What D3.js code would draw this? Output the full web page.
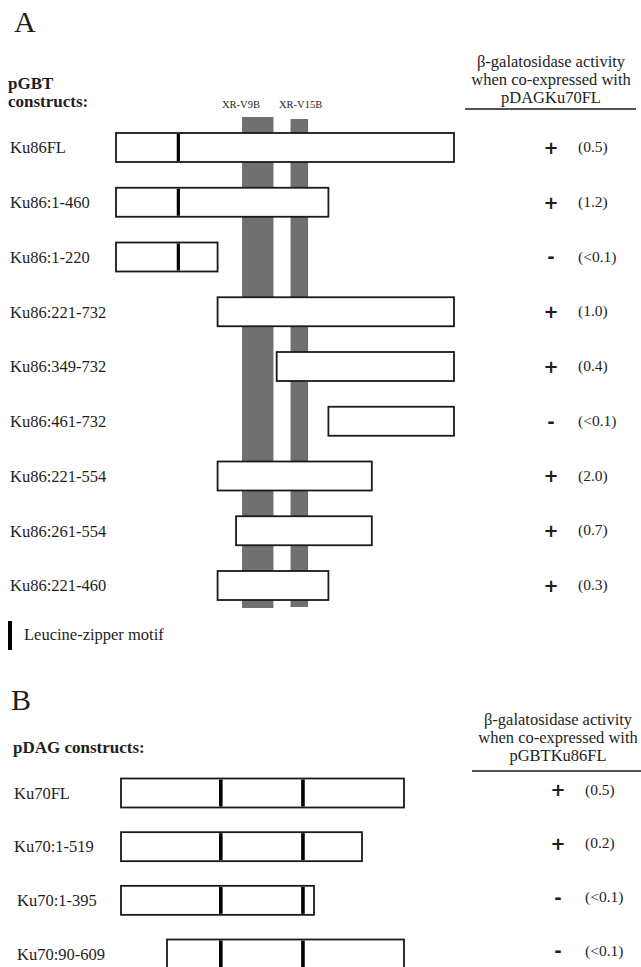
<!DOCTYPE html>
<html>
<head>
<meta charset="utf-8">
<script src="https://cdn.jsdelivr.net/npm/d3@7/dist/d3.min.js"></script>
<style>
  html, body { margin: 0; padding: 0; background: #ffffff; }
  svg { display: block; }
  text { font-family: "Liberation Serif", "Times New Roman", serif; fill: #1e1e1e; }
</style>
</head>
<body>
<script>
// ---------- Panel A data (pGBT Ku86 constructs, Ku86 = 732 residues) ----------
const ku86Constructs = ["Ku86FL", "Ku86:1-460", "Ku86:1-220", "Ku86:221-732", "Ku86:349-732",
                        "Ku86:461-732", "Ku86:221-554", "Ku86:261-554", "Ku86:221-460"];
const ku86Start = [1, 1, 1, 221, 349, 461, 221, 261, 221];
const ku86End   = [732, 460, 220, 732, 732, 732, 554, 554, 460];
const ku86Length = 732;
const ku86Zippers = [135];                       // leucine-zipper motif (residue, estimated)
const xrRegions = ["XR-V9B", "XR-V15B"];
const xrStart = [273, 378];                      // residues
const xrEnd   = [341, 416];
const ku86Sign  = ["+", "+", "-", "+", "+", "-", "+", "+", "+"];
const ku86Value = ["(0.5)", "(1.2)", "(<0.1)", "(1.0)", "(0.4)", "(<0.1)", "(2.0)", "(0.7)", "(0.3)"];
const headerA = ["β-galatosidase activity", "when co-expressed with", "pDAGKu70FL"];

// ---------- Panel B data (pDAG Ku70 constructs, Ku70 = 609 residues) ----------
const ku70Constructs = ["Ku70FL", "Ku70:1-519", "Ku70:1-395", "Ku70:90-609"];
const ku70Start = [1, 1, 1, 90];
const ku70End   = [609, 519, 395, 609];
const ku70Knots = [0, 89, 395, 519, 609];        // schematic scale knots
const ku70Zippers = [201, 372];
const ku70Sign  = ["+", "+", "-", "-"];
const ku70Value = ["(0.5)", "(0.2)", "(<0.1)", "(<0.1)"];
const headerB = ["β-galatosidase activity", "when co-expressed with", "pGBTKu86FL"];

const W = 641, H = 967;
const svg = d3.select("body").append("svg").attr("width", W).attr("height", H);

const labelFont = 16.5;
const barH = 29;
const gray = "#707070";
const ink = "#1a1a1a";

// ================= PANEL A =================
const xA = d3.scaleLinear().domain([0, ku86Length]).range([116, 454]);
const yA = d3.scalePoint().domain(ku86Constructs).range([147.5, 585.5]);

svg.append("text").attr("x", 14).attr("y", 32).attr("font-size", 30).text("A");
const hdrA = svg.append("text").attr("x", 8).attr("font-size", 17).attr("font-weight", "bold");
hdrA.append("tspan").attr("x", 8).attr("y", 89).text("pGBT");
hdrA.append("tspan").attr("x", 8).attr("y", 107).text("constructs:");

// XR regions (gray columns, behind constructs)
const gA = svg.append("g");
const topY = yA(ku86Constructs[0]) - barH / 2 - 16;
const botY = yA(ku86Constructs[ku86Constructs.length - 1]) + barH / 2 + 8;
gA.selectAll("rect.xr").data(xrRegions).join("rect")
  .attr("class", "xr")
  .attr("x", (d, i) => xA(xrStart[i]))
  .attr("width", (d, i) => xA(xrEnd[i]) - xA(xrStart[i]))
  .attr("y", (d, i) => topY + i * 2)
  .attr("height", (d, i) => botY - topY - i * 3)
  .attr("fill", gray);
gA.selectAll("text.xr").data(xrRegions).join("text")
  .attr("class", "xr")
  .attr("x", (d, i) => i === 0 ? 222 : 279)
  .attr("y", 108)
  .attr("font-size", 10.5)
  .text(d => d);

// construct bars
const rowsA = gA.selectAll("g.row").data(ku86Constructs).join("g").attr("class", "row");
rowsA.append("text")
  .attr("x", 10).attr("y", d => yA(d)).attr("dy", "0.35em")
  .attr("font-size", labelFont).text(d => d);
rowsA.append("rect")
  .attr("x", (d, i) => xA(ku86Start[i] - 1))
  .attr("width", (d, i) => xA(ku86End[i]) - xA(ku86Start[i] - 1))
  .attr("y", d => yA(d) - barH / 2).attr("height", barH)
  .attr("fill", "#fff").attr("stroke", ink).attr("stroke-width", 1.8);
rowsA.each(function (d, i) {
  const g = d3.select(this);
  ku86Zippers.filter(z => z >= ku86Start[i] && z <= ku86End[i]).forEach(z => {
    g.append("line")
      .attr("x1", xA(z)).attr("x2", xA(z))
      .attr("y1", yA(d) - barH / 2 + 1).attr("y2", yA(d) + barH / 2 - 1)
      .attr("stroke", "#000").attr("stroke-width", 3.2);
  });
});
rowsA.append("text")
  .attr("x", 551).attr("y", d => yA(d)).attr("dy", "0.36em")
  .attr("text-anchor", "middle")
  .style("font-family", "'DejaVu Sans', sans-serif").attr("font-weight", "bold")
  .attr("font-size", 18)
  .text((d, i) => ku86Sign[i]);
rowsA.append("text")
  .attr("x", 578).attr("y", d => yA(d)).attr("dy", "0.3em")
  .attr("font-size", 15.5)
  .text((d, i) => ku86Value[i]);

// right header A
svg.append("g").selectAll("text").data(headerA).join("text")
  .attr("x", 551).attr("y", (d, i) => 67 + i * 18)
  .attr("text-anchor", "middle").attr("font-size", 16.5).text(d => d);
svg.append("line").attr("x1", 465).attr("x2", 636).attr("y1", 109).attr("y2", 109)
  .attr("stroke", ink).attr("stroke-width", 1.6);

// legend
svg.append("rect").attr("x", 8).attr("y", 621).attr("width", 4).attr("height", 29).attr("fill", "#000");
svg.append("text").attr("x", 24).attr("y", 640).attr("font-size", 16.5).text("Leucine-zipper motif");

// ================= PANEL B =================
const xB = d3.scaleLinear().domain(ku70Knots).range([121, 167, 314, 362, 404]);
const yB = d3.scalePoint().domain(ku70Constructs).range([793, 954]);

svg.append("text").attr("x", 11).attr("y", 710).attr("font-size", 30).text("B");
svg.append("text").attr("x", 13).attr("y", 753).attr("font-size", 17).attr("font-weight", "bold")
  .text("pDAG constructs:");

svg.append("g").selectAll("text").data(headerB).join("text")
  .attr("x", 558).attr("y", (d, i) => 725 + i * 18)
  .attr("text-anchor", "middle").attr("font-size", 16.5).text(d => d);
svg.append("line").attr("x1", 472).attr("x2", 641).attr("y1", 771).attr("y2", 771)
  .attr("stroke", ink).attr("stroke-width", 1.6);

const rowsB = svg.append("g").selectAll("g.row").data(ku70Constructs).join("g").attr("class", "row");
rowsB.append("text")
  .attr("x", (d, i) => i < 2 ? 14 : 17).attr("y", d => yB(d)).attr("dy", "0.35em")
  .attr("font-size", labelFont).text(d => d);
rowsB.append("rect")
  .attr("x", (d, i) => xB(ku70Start[i] - 1))
  .attr("width", (d, i) => xB(ku70End[i]) - xB(ku70Start[i] - 1))
  .attr("y", d => yB(d) - barH / 2).attr("height", barH)
  .attr("fill", "#fff").attr("stroke", ink).attr("stroke-width", 1.8);
rowsB.each(function (d, i) {
  const g = d3.select(this);
  ku70Zippers.filter(z => z >= ku70Start[i] && z <= ku70End[i]).forEach(z => {
    g.append("line")
      .attr("x1", xB(z)).attr("x2", xB(z))
      .attr("y1", yB(d) - barH / 2 + 1).attr("y2", yB(d) + barH / 2 - 1)
      .attr("stroke", "#000").attr("stroke-width", 3.6);
  });
});
rowsB.append("text")
  .attr("x", 558).attr("y", d => yB(d) - 3).attr("dy", "0.36em")
  .attr("text-anchor", "middle")
  .style("font-family", "'DejaVu Sans', sans-serif").attr("font-weight", "bold")
  .attr("font-size", 18)
  .text((d, i) => ku70Sign[i]);
rowsB.append("text")
  .attr("x", 585).attr("y", d => yB(d) - 3).attr("dy", "0.3em")
  .attr("font-size", 15.5)
  .text((d, i) => ku70Value[i]);
</script>
</body>
</html>
